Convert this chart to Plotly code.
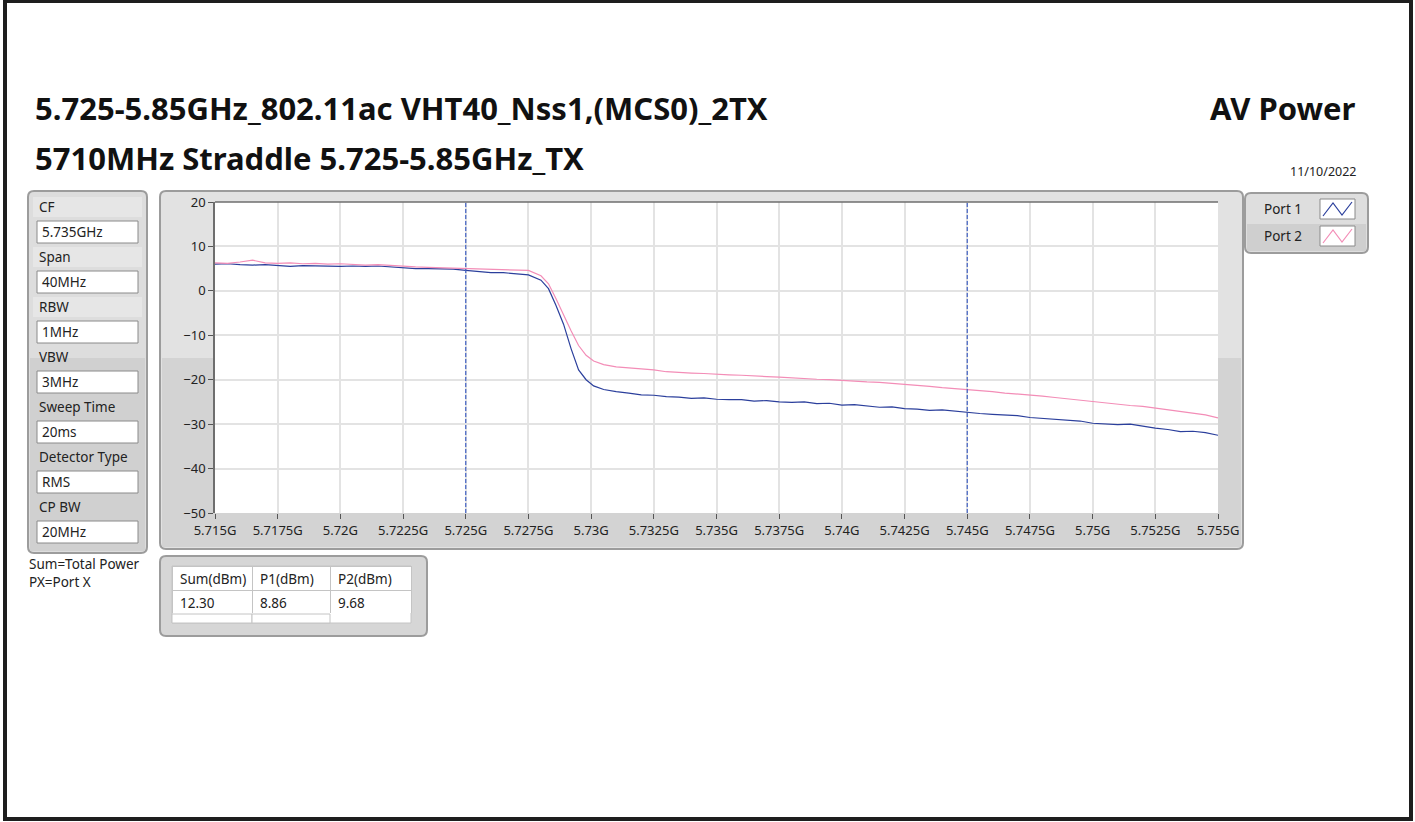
"""
AV Power spectrum plot, 5710MHz straddle channel, two TX ports.
Rebuilt in plotly to look like the LabVIEW test-report screen.
"""
import plotly.graph_objects as go

W, H = 1415, 822
FONT = "Noto Sans"

# ── Data ─────────────────────────────────────────────────────────────────
freq_ghz = [
    5.7150, 5.7155, 5.7160, 5.7165, 5.7170, 5.7175, 5.7180, 5.7185, 5.7190, 5.7195,
    5.7200, 5.7205, 5.7210, 5.7215, 5.7220, 5.7225, 5.7230, 5.7235, 5.7240, 5.7245,
    5.7250, 5.7255, 5.7260, 5.7265, 5.7270, 5.7275, 5.7280, 5.7283, 5.7286, 5.7289,
    5.7292, 5.7295, 5.7298, 5.7301, 5.7305, 5.7310, 5.7315, 5.7320, 5.7325, 5.7330,
    5.7335, 5.7340, 5.7345, 5.7350, 5.7355, 5.7360, 5.7365, 5.7370, 5.7375, 5.7380,
    5.7385, 5.7390, 5.7395, 5.7400, 5.7405, 5.7410, 5.7415, 5.7420, 5.7425, 5.7430,
    5.7435, 5.7440, 5.7445, 5.7450, 5.7455, 5.7460, 5.7465, 5.7470, 5.7475, 5.7480,
    5.7485, 5.7490, 5.7495, 5.7500, 5.7505, 5.7510, 5.7515, 5.7520, 5.7525, 5.7530,
    5.7535, 5.7540, 5.7545, 5.7550,
]
port1_dbm = [
    6.0, 6.1, 5.9, 5.8, 5.9, 5.7, 5.5, 5.7, 5.6, 5.5,
    5.5, 5.6, 5.5, 5.6, 5.4, 5.1, 5.0, 5.0, 5.0, 4.9,
    4.6, 4.3, 4.1, 4.1, 3.9, 3.6, 2.4, 0.5, -3.3, -7.5,
    -13.0, -17.8, -20.0, -21.4, -22.2, -22.7, -23.0, -23.4, -23.5, -23.8,
    -23.9, -24.2, -24.1, -24.4, -24.5, -24.5, -24.8, -24.7, -25.0, -25.1,
    -25.0, -25.4, -25.3, -25.7, -25.6, -25.9, -26.2, -26.1, -26.5, -26.6,
    -26.9, -26.8, -27.1, -27.3, -27.6, -27.8, -28.0, -28.1, -28.5, -28.7,
    -28.9, -29.2, -29.3, -29.8, -30.0, -30.1, -30.0, -30.5, -30.9, -31.2,
    -31.7, -31.6, -31.9, -32.5,
]
port2_dbm = [
    6.3, 6.2, 6.5, 6.9, 6.3, 6.2, 6.3, 6.1, 6.2, 6.0,
    6.1, 5.9, 5.8, 5.9, 5.7, 5.5, 5.4, 5.3, 5.2, 5.1,
    5.0, 5.0, 4.8, 4.7, 4.6, 4.6, 3.4, 1.6, -1.8, -5.5,
    -9.0, -12.3, -14.5, -15.8, -16.6, -17.1, -17.3, -17.6, -17.8, -18.2,
    -18.4, -18.5, -18.6, -18.8, -18.9, -19.0, -19.2, -19.3, -19.4, -19.6,
    -19.7, -19.9, -20.0, -20.2, -20.4, -20.5, -20.6, -20.8, -21.0, -21.3,
    -21.5, -21.8, -22.0, -22.3, -22.5, -22.7, -23.0, -23.2, -23.4, -23.7,
    -24.0, -24.3, -24.6, -25.0, -25.2, -25.5, -25.8, -26.0, -26.4, -26.8,
    -27.2, -27.6, -27.9, -28.6,
]
x_ticks = [5.715, 5.7175, 5.72, 5.7225, 5.725, 5.7275, 5.73, 5.7325, 5.735,
           5.7375, 5.74, 5.7425, 5.745, 5.7475, 5.75, 5.7525, 5.755]
x_tick_text = ["5.715G", "5.7175G", "5.72G", "5.7225G", "5.725G", "5.7275G",
               "5.73G", "5.7325G", "5.735G", "5.7375G", "5.74G", "5.7425G",
               "5.745G", "5.7475G", "5.75G", "5.7525G", "5.755G"]
band_edges_ghz = [5.725, 5.745]

param_names = ["CF", "Span", "RBW", "VBW", "Sweep Time", "Detector Type", "CP BW"]
param_values = ["5.735GHz", "40MHz", "1MHz", "3MHz", "20ms", "RMS", "20MHz"]

table_header = ["Sum(dBm)", "P1(dBm)", "P2(dBm)"]
table_row = ["12.30", "8.86", "9.68"]

port_names = ["Port 1", "Port 2"]
port_colors = ["#2b3f9c", "#f38db7"]


# ── pixel -> paper helpers ───────────────────────────────────────────────
def px(x):
    return x / W


def py(y):
    return 1 - y / H


def rrect(x0, y0, x1, y1, r=6):
    pts = [
        f"M{px(x0 + r)},{py(y0)}", f"L{px(x1 - r)},{py(y0)}",
        f"Q{px(x1)},{py(y0)} {px(x1)},{py(y0 + r)}", f"L{px(x1)},{py(y1 - r)}",
        f"Q{px(x1)},{py(y1)} {px(x1 - r)},{py(y1)}", f"L{px(x0 + r)},{py(y1)}",
        f"Q{px(x0)},{py(y1)} {px(x0)},{py(y1 - r)}", f"L{px(x0)},{py(y0 + r)}",
        f"Q{px(x0)},{py(y0)} {px(x0 + r)},{py(y0)}", "Z",
    ]
    return " ".join(pts)


def box(x0, y0, x1, y1, fill, line="rgba(0,0,0,0)", lw=0, layer="below"):
    return dict(type="rect", xref="paper", yref="paper",
                x0=px(x0), x1=px(x1), y0=py(y1), y1=py(y0),
                fillcolor=fill, line=dict(color=line, width=lw), layer=layer)


def panel(x0, y0, x1, y1, fill):
    return dict(type="path", xref="paper", yref="paper", path=rrect(x0, y0, x1, y1),
                fillcolor=fill, line=dict(color="#9c9c9c", width=2), layer="below")


def text(x, y, s, size=13, anchor="left", bold=False, color="#222"):
    return dict(x=px(x), y=py(y), xref="paper", yref="paper", showarrow=False,
                text=f"<b>{s}</b>" if bold else s, xanchor=anchor, yanchor="middle",
                font=dict(family=FONT, size=size, color=color))


# plot area in pixels
PL, PR, PT, PB = 215, 1218, 202, 513

fig = go.Figure()
for name, vals, col in zip(port_names, [port1_dbm, port2_dbm], port_colors):
    fig.add_trace(go.Scatter(x=freq_ghz, y=vals, name=name, mode="lines",
                             line=dict(color=col, width=1.2), showlegend=False))

fig.add_trace(go.Table(
    domain=dict(x=[px(172), px(411)], y=[py(614), py(566)]),
    columnwidth=[80, 78, 81],
    header=dict(values=table_header, align="left", height=24,
                fill_color="white", line_color="#c4c4c4",
                font=dict(family=FONT, size=13.5, color="#222")),
    cells=dict(values=[[v] for v in table_row], align="left", height=23,
               fill_color="white", line_color="#c4c4c4",
               font=dict(family=FONT, size=13.5, color="#222")),
))

shapes = [
    # chart panel
    panel(160, 191, 1243, 549, "#e2e2e2"),
    box(162, 358, 1241, 547, "#d3d3d3"),
    # parameter panel
    panel(28, 191, 147, 553, "#dddddd"),
    box(30, 358, 145, 551, "#d0d0d0"),
    # legend panel
    panel(1245, 193, 1368, 253, "#dedede"),
    box(1247, 224, 1366, 251, "#cfcfcf"),
    # table panel
    panel(160, 556, 427, 636, "#d6d6d6"),
    box(172, 566, 411, 623, "white", "#c4c4c4", 1),
    box(172, 614, 252, 623, "white", "#c4c4c4", 1),
    box(252, 614, 330, 623, "white", "#c4c4c4", 1),
    # plot area
    box(PL, PT, PR, PB, "white"),
    dict(type="line", xref="paper", yref="paper", x0=px(PL), x1=px(PR),
         y0=py(PT), y1=py(PT), line=dict(color="#6e6e6e", width=1.5)),
    # page border
    dict(type="rect", xref="paper", yref="paper", x0=px(5), x1=px(1411),
         y0=py(819), y1=py(1), line=dict(color="#1e1e1e", width=4)),
]

for f in band_edges_ghz:
    shapes.append(dict(type="line", xref="x", yref="y domain", x0=f, x1=f, y0=0, y1=1,
                       line=dict(color="#4262c4", width=1.2, dash="4px,2px")))

annotations = [
    text(33, 108, "5.725-5.85GHz_802.11ac VHT40_Nss1,(MCS0)_2TX", size=31, bold=True, color="#111"),
    text(33, 158, "5710MHz Straddle 5.725-5.85GHz_TX", size=31, bold=True, color="#111"),
    text(1357, 108, "AV Power", size=31, anchor="right", bold=True, color="#111"),
    text(1359, 172, "11/10/2022", size=12.5, anchor="right"),
    text(27, 564, "Sum=Total Power", size=13.5),
    text(27, 582, "PX=Port X", size=13.5),
]

for i, (lab, val) in enumerate(zip(param_names, param_values)):
    yl = 207 + 50 * i
    yb = 221 + 50 * i
    if i < 3:
        shapes.append(box(33, yl - 10, 142, yl + 10, "#e6e6e6"))
    shapes.append(box(37, yb, 138, yb + 22, "white", "#8a8a8a", 1))
    annotations.append(text(37, yl, lab, size=13.5))
    annotations.append(text(40, yb + 11, val, size=13.5))

for i, (name, col) in enumerate(zip(port_names, port_colors)):
    yc = 209 + 27 * i
    annotations.append(text(1262, yc, name, size=13.5))
    shapes.append(box(1320, yc - 10, 1355, yc + 10, "white", "#8a8a8a", 1))
    zig = [(1323, yc + 7), (1333, yc - 6), (1342, yc + 6), (1352, yc - 7)]
    path = "M" + " L".join(f"{px(a)},{py(b)}" for a, b in zig)
    shapes.append(dict(type="path", xref="paper", yref="paper", path=path,
                       line=dict(color=col, width=1.2)))

fig.update_layout(
    width=W, height=H,
    margin=dict(l=0, r=0, t=0, b=0, pad=0, autoexpand=False),
    paper_bgcolor="white", plot_bgcolor="white",
    shapes=shapes, annotations=annotations,
    xaxis=dict(domain=[px(PL), px(PR)], range=[5.715, 5.755], automargin=False,
               tickvals=x_ticks, ticktext=x_tick_text,
               ticks="outside", ticklen=5, tickcolor="#555",
               showgrid=True, gridcolor="#e3e3e3", gridwidth=1.5,
               zeroline=False, showline=False,
               tickfont=dict(family=FONT, size=13, color="#222")),
    yaxis=dict(domain=[py(PB), py(PT)], range=[-50, 20], dtick=10, automargin=False,
               ticks="outside", ticklen=5, tickcolor="#555",
               showgrid=True, gridcolor="#e3e3e3", gridwidth=1.5,
               zeroline=False, showline=True, linecolor="#6e6e6e", linewidth=1.5,
               tickfont=dict(family=FONT, size=13, color="#222")),
    font=dict(family=FONT),
)

# drop the browser's default body margin so the figure sits at the page corner
fig.write_html("out.html", config={"displayModeBar": False},
               post_script="document.body.style.margin='0';")
print("Saved: out.html")
